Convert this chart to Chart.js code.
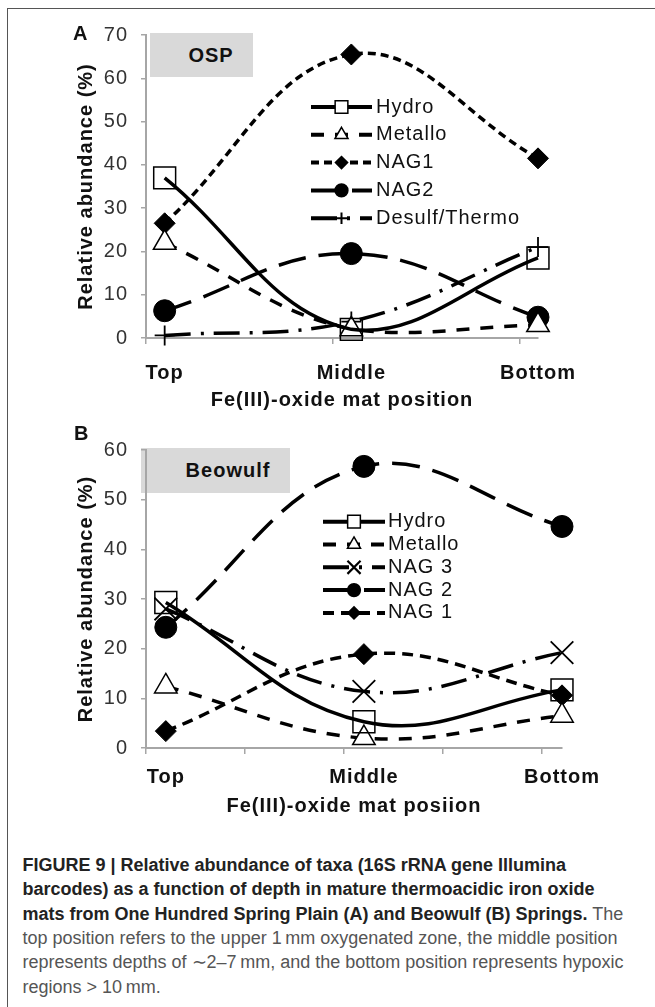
<!DOCTYPE html>
<html>
<head>
<meta charset="utf-8">
<script src="https://cdn.jsdelivr.net/npm/chart.js@4.4.0/dist/chart.umd.min.js"></script>
<style>
html,body{margin:0;padding:0;background:#fff;}
body{width:655px;height:1007px;position:relative;overflow:hidden;font-family:"Liberation Sans",Arial,sans-serif;}
.frame-top{position:absolute;left:6.5px;top:7.5px;width:649px;height:0;border-top:1.6px solid #555;}
.frame-left{position:absolute;left:6.5px;top:7.5px;width:0;height:1000px;border-left:1.6px solid #555;}
.panel{position:absolute;font-weight:bold;font-size:20px;line-height:20px;letter-spacing:1px;color:#111;}
.box{position:absolute;background:#d9d9d9;display:flex;align-items:center;justify-content:center;font-weight:bold;font-size:20px;letter-spacing:1px;color:#111;box-sizing:border-box;}
canvas{position:absolute;left:0;}
.cap{position:absolute;left:22.5px;top:852.8px;font-size:18px;line-height:24.4px;white-space:nowrap;color:#555;}
.cap b{color:#222;}
</style>
</head>
<body>
<div class="frame-top"></div>
<div class="frame-left"></div>
<div class="box" style="left:150px;top:33px;width:103px;height:44px;padding-left:19px;">OSP</div>
<div class="box" style="left:141px;top:448px;width:149px;height:45px;padding-left:25px;">Beowulf</div>
<canvas id="chartA" width="655" height="430" style="top:0;width:655px;height:430px;"></canvas>
<canvas id="chartB" width="655" height="415" style="top:415px;width:655px;height:415px;"></canvas>
<div class="panel" style="left:73px;top:23px;">A</div>
<div class="panel" style="left:74px;top:423px;">B</div>
<div class="cap"><b>FIGURE 9 | Relative abundance of taxa (16S rRNA gene Illumina</b><br><b>barcodes) as a function of depth in mature thermoacidic iron oxide</b><br><b>mats from One Hundred Spring Plain (A) and Beowulf (B) Springs.</b> The<br>top position refers to the upper 1&thinsp;mm oxygenated zone, the middle position<br>represents depths of ∼2–7&thinsp;mm, and the bottom position represents hypoxic<br>regions &gt; 10&thinsp;mm.</div>

<script>
// ---------- data ----------
const categories = ['Top', 'Middle', 'Bottom'];

// Panel A (OSP)
const hydroA   = [37, 2, 18.5];
const metalloA = [22, 2, 3];
const nag1A    = [26.5, 65.5, 41.5];
const nag2A    = [6.3, 19.5, 4.8];
const desulfA  = [0.6, 3.8, 21];

// Panel B (Beowulf)
const hydroB   = [29.3, 5.3, 11.7];
const metalloB = [12.4, 2, 6.5];
const nag3B    = [28, 11.4, 19.2];
const nag2B    = [24.3, 56.7, 44.6];
const nag1B    = [3.4, 18.9, 10.6];

const xTicksA = [0.9, 1.9, 2.9];
const xTicksB = [0.9, 1.4, 1.9, 2.4, 2.9];
const yMaxA = 70;
const yMaxB = 60;

// ---------- styles ----------
const FONT = '"Liberation Sans", Arial, sans-serif';
const FS = 20;
const LS = '1px';
const AX = '#a6a6a6';
const TRANSP = 'rgba(0,0,0,0)';
const ST = {
  hydro:   {borderDash: [], borderWidth: 3.5, pointStyle: 'rect', pointRadius: 15.5, pointBorderWidth: 1.5, pointBackgroundColor: TRANSP},
  metallo: {borderDash: [13, 11], borderWidth: 3.5, pointStyle: 'triangle', pointRadius: 13, pointBorderWidth: 1.5, pointBackgroundColor: '#fff'},
  nagShort:{borderDash: [8, 5], borderWidth: 3.5, pointStyle: 'rectRot', pointRadius: 10.5, pointBorderWidth: 1, pointBackgroundColor: '#000'},
  nagLong: {borderDash: [28, 13], borderWidth: 3.5, pointStyle: 'circle', pointRadius: 11, pointBorderWidth: 1, pointBackgroundColor: '#000'},
  dashDot: {borderDash: [26, 10, 3, 10], borderWidth: 3.5, pointStyle: 'cross', pointRadius: 10, pointBorderWidth: 1.8, pointBackgroundColor: TRANSP},
  dashDotX:{borderDash: [26, 10, 3, 10], borderWidth: 3.5, pointStyle: 'crossRot', pointRadius: 16, pointBorderWidth: 1.8, pointBackgroundColor: TRANSP}
};

function ds(label, values, style) {
  return Object.assign({
    label: label,
    data: values.map((v, i) => ({x: i + 1, y: v})),
    borderColor: '#000',
    pointBorderColor: '#000',
    pointHoverRadius: style.pointRadius,
    tension: 0.4,
    fill: false,
    clip: false
  }, style);
}

function drawMarker(ctx, d, x, y, r) {
  ctx.save();
  ctx.setLineDash([]);
  ctx.lineWidth = Math.max(d.pointBorderWidth, 1.5);
  ctx.strokeStyle = '#000';
  ctx.fillStyle = d.pointBackgroundColor === TRANSP ? '#fff' : d.pointBackgroundColor;
  ctx.beginPath();
  const s = d.pointStyle;
  if (s === 'rect') {
    const h = r * Math.SQRT1_2;
    ctx.rect(x - h, y - h, 2 * h, 2 * h);
    ctx.fill(); ctx.stroke();
  } else if (s === 'triangle') {
    ctx.moveTo(x, y - r);
    ctx.lineTo(x + 0.866 * r, y + 0.5 * r);
    ctx.lineTo(x - 0.866 * r, y + 0.5 * r);
    ctx.closePath(); ctx.fill(); ctx.stroke();
  } else if (s === 'rectRot') {
    ctx.moveTo(x, y - r); ctx.lineTo(x + r, y); ctx.lineTo(x, y + r); ctx.lineTo(x - r, y);
    ctx.closePath(); ctx.fill(); ctx.stroke();
  } else if (s === 'circle') {
    ctx.arc(x, y, r, 0, Math.PI * 2);
    ctx.fill(); ctx.stroke();
  } else if (s === 'cross') {
    ctx.lineWidth = 2;
    ctx.moveTo(x, y - r); ctx.lineTo(x, y + r);
    ctx.moveTo(x - r, y); ctx.lineTo(x + r, y);
    ctx.stroke();
  } else if (s === 'crossRot') {
    ctx.lineWidth = 2.2;
    const o = r * Math.SQRT1_2;
    ctx.moveTo(x - o, y - o); ctx.lineTo(x + o, y + o);
    ctx.moveTo(x + o, y - o); ctx.lineTo(x - o, y + o);
    ctx.stroke();
  }
  ctx.restore();
}

const spacingPlugin = {
  id: 'spacing',
  beforeUpdate(chart) { chart.ctx.letterSpacing = LS; },
  beforeLayout(chart) { chart.ctx.letterSpacing = LS; },
  beforeDraw(chart) { chart.ctx.letterSpacing = LS; }
};

const legendPlugin = {
  id: 'lineLegend',
  afterDraw(chart, args, o) {
    const ctx = chart.ctx;
    ctx.save();
    ctx.letterSpacing = LS;
    chart.data.datasets.forEach((d, i) => {
      const y = o.y0 + i * o.dy;
      ctx.setLineDash(d.borderDash || []);
      ctx.lineWidth = 4;
      ctx.strokeStyle = '#000';
      ctx.beginPath(); ctx.moveTo(o.x0, y); ctx.lineTo(o.x1, y); ctx.stroke();
      drawMarker(ctx, d, (o.x0 + o.x1) / 2, y, d.pointRadius * 0.58);
      ctx.setLineDash([]);
      ctx.fillStyle = '#111';
      ctx.font = FS + 'px ' + FONT;
      ctx.textAlign = 'left';
      ctx.textBaseline = 'middle';
      ctx.fillText(d.label, o.tx, y);
    });
    ctx.restore();
  }
};

function makeChart(id, datasets, cfg) {
  return new Chart(document.getElementById(id), {
    type: 'line',
    data: {datasets: datasets},
    plugins: [spacingPlugin, legendPlugin],
    options: {
      responsive: false,
      maintainAspectRatio: false,
      animation: false,
      events: [],
      layout: {padding: {left: 0, right: cfg.padRight, top: cfg.padTop, bottom: 0}},
      plugins: {
        legend: {display: false},
        tooltip: {enabled: false},
        lineLegend: cfg.legend
      },
      scales: {
        x: {
          type: 'linear', position: 'bottom', min: 0.9, max: 3.0, weight: 0,
          afterBuildTicks: s => { s.ticks = cfg.xTicks.map(v => ({value: v})); },
          afterFit: s => { s.height = 6; },
          ticks: {display: false},
          grid: {display: true, drawOnChartArea: false, drawTicks: true, tickLength: 6, color: AX, lineWidth: 1.5},
          border: {display: true, color: AX, width: 2}
        },
        xc: {
          type: 'linear', position: 'bottom', min: 0.9, max: 3.0, weight: 1,
          afterBuildTicks: s => { s.ticks = categories.map((c, i) => ({value: i + 1})); },
          afterFit: s => { s.height = cfg.xcH; },
          ticks: {
            autoSkip: false, maxRotation: 0, minRotation: 0, padding: cfg.labPad, color: '#111',
            font: {family: FONT, size: FS, weight: 'bold'},
            callback: v => categories[Math.round(v) - 1]
          },
          grid: {display: false, drawTicks: false},
          border: {display: false},
          title: {display: true, text: cfg.xTitle, color: '#111',
                  font: {family: FONT, size: FS, weight: 'bold'},
                  padding: {top: 0, bottom: cfg.titlePadB}}
        },
        y: {
          position: 'left', min: 0, max: cfg.yMax,
          afterFit: s => { s.width = 146; },
          ticks: {stepSize: 10, padding: 13, color: '#333', font: {family: FONT, size: FS}},
          grid: {display: true, drawOnChartArea: false, drawTicks: true, tickLength: 5, color: AX, lineWidth: 1.5},
          border: {display: true, color: AX, width: 2},
          title: {display: true, text: 'Relative abundance (%)', color: '#111',
                  font: {family: FONT, size: FS, weight: 'bold'},
                  padding: {top: 74, bottom: 0}}
        }
      }
    }
  });
}

makeChart('chartA', [
  ds('Hydro', hydroA, ST.hydro),
  ds('Metallo', metalloA, ST.metallo),
  ds('NAG1', nag1A, ST.nagShort),
  ds('NAG2', nag2A, ST.nagLong),
  ds('Desulf/Thermo', desulfA, ST.dashDot)
], {
  padRight: 117, padTop: 35, xcH: 86, labPad: 17, titlePadB: 18,
  xTicks: xTicksA, yMax: yMaxA, xTitle: 'Fe(III)-oxide mat position',
  legend: {x0: 311, x1: 372, tx: 376, y0: 107, dy: 27.8}
});

makeChart('chartB', [
  ds('Hydro', hydroB, ST.hydro),
  ds('Metallo', metalloB, ST.metallo),
  ds('NAG 3', nag3B, ST.dashDotX),
  ds('NAG 2', nag2B, ST.nagLong),
  ds('NAG 1', nag1B, Object.assign({}, ST.nagShort, {borderDash: [11, 7]}))
], {
  padRight: 93, padTop: 35, xcH: 76, labPad: 11, titlePadB: 11.4,
  xTicks: xTicksB, yMax: yMaxB, xTitle: 'Fe(III)-oxide mat posiion',
  legend: {x0: 323, x1: 385, tx: 388, y0: 521.7 - 415, dy: 22.8}
});
</script>
</body>
</html>
